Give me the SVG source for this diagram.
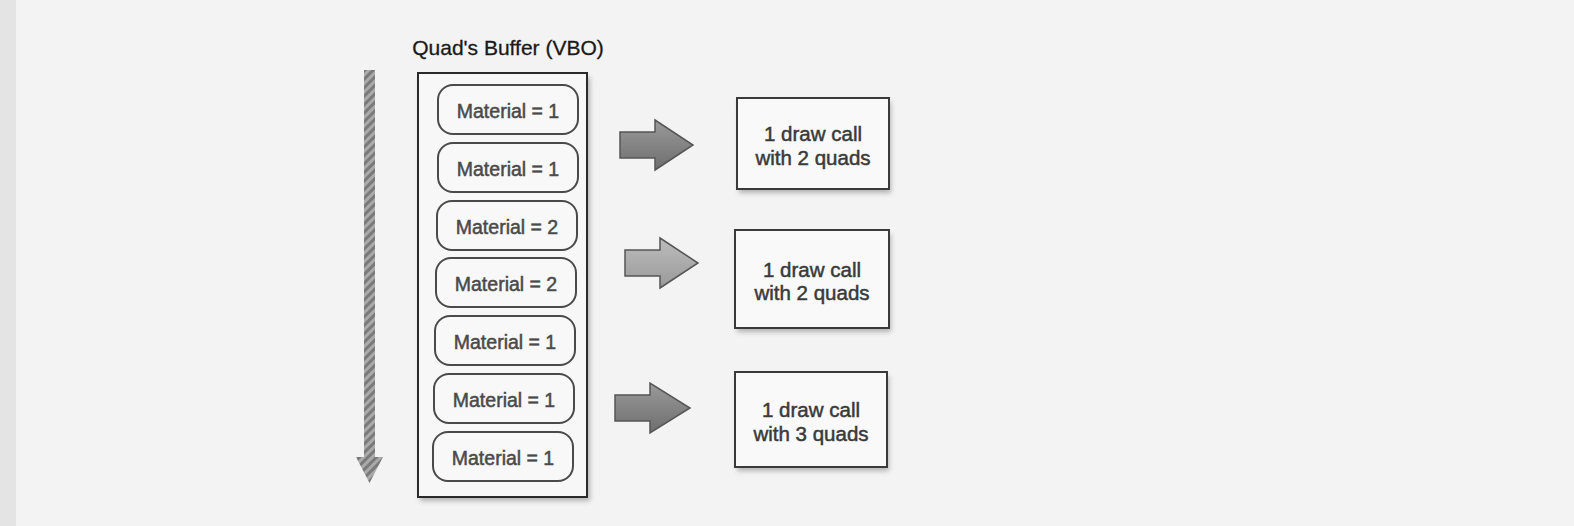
<svg xmlns="http://www.w3.org/2000/svg" width="1574" height="526" viewBox="0 0 1574 526">
  <defs>
    <style>
      .title{font-family:"Liberation Sans",Arial,sans-serif;font-size:21px;fill:#1a1a1a;stroke:#1a1a1a;stroke-width:0.3;text-anchor:middle}
      .pill rect{fill:#f8f8f8;stroke:#4a4a4a;stroke-width:2}
      .pill text{font-family:"Liberation Sans",Arial,sans-serif;font-size:19.5px;fill:#4a4a4a;stroke:#4a4a4a;stroke-width:0.5;text-anchor:middle}
      .box rect.b{fill:#f9f9f9;stroke:#3a3a3a;stroke-width:2}
      .box text{font-family:"Liberation Sans",Arial,sans-serif;font-size:20.5px;fill:#3a3a3a;stroke:#3a3a3a;stroke-width:0.5;text-anchor:middle}
      .shadow{fill:#888;opacity:0.6}
      .blk{stroke:#555;stroke-width:1.5}
    </style>
    <filter id="blur" x="-10%" y="-10%" width="120%" height="120%">
      <feGaussianBlur stdDeviation="2.5"/>
    </filter>
    <linearGradient id="ag" x1="0" y1="0" x2="0" y2="1">
      <stop offset="0" stop-color="#9a9a9a"/>
      <stop offset="1" stop-color="#6e6e6e"/>
    </linearGradient>
    <linearGradient id="ag2" x1="0" y1="0" x2="0" y2="1">
      <stop offset="0" stop-color="#bdbdbd"/>
      <stop offset="1" stop-color="#999"/>
    </linearGradient>
    <pattern id="hatch" width="6" height="6" patternUnits="userSpaceOnUse" patternTransform="rotate(45)">
      <rect width="6" height="6" fill="#aaa"/>
      <rect width="3" height="6" fill="#7a7a7a"/>
    </pattern>
  </defs>

  <rect width="1574" height="526" fill="#f3f3f3"/>
  <rect width="16" height="526" fill="#e4e4e4"/>

  <text class="title" x="508" y="55">Quad's Buffer (VBO)</text>

  <g id="order-arrow">
    <path d="M364,70 L375,70 L375,457 L383,457 L369.5,483 L356,457 L364,457 Z" fill="url(#hatch)"/>
  </g>

  <g id="buffer">
    <rect class="shadow" x="420" y="77" width="170" height="424" filter="url(#blur)"/>
    <rect x="418" y="73" width="169" height="424" fill="#f7f7f7" stroke="#2a2a2a" stroke-width="2"/>
  </g>

  <g id="pill1" class="pill"><rect x="438" y="85" width="140" height="49" rx="15"/><text x="508" y="118">Material = 1</text></g>
  <g id="pill2" class="pill"><rect x="438" y="143" width="140" height="49" rx="15"/><text x="508" y="176">Material = 1</text></g>
  <g id="pill3" class="pill"><rect x="437" y="201" width="140" height="49" rx="15"/><text x="507" y="234">Material = 2</text></g>
  <g id="pill4" class="pill"><rect x="436" y="258" width="140" height="49" rx="15"/><text x="506" y="291">Material = 2</text></g>
  <g id="pill5" class="pill"><rect x="435" y="316" width="140" height="49" rx="15"/><text x="505" y="349">Material = 1</text></g>
  <g id="pill6" class="pill"><rect x="434" y="374" width="140" height="49" rx="15"/><text x="504" y="407">Material = 1</text></g>
  <g id="pill7" class="pill"><rect x="433" y="432" width="140" height="49" rx="15"/><text x="503" y="465">Material = 1</text></g>

  <g id="connectors">
    <path class="blk" d="M620,132 L655,132 L655,120 L693,145 L655,170 L655,158 L620,158 Z" fill="url(#ag)"/>
    <path class="blk" d="M625,250 L660,250 L660,238 L698,263 L660,288 L660,276 L625,276 Z" fill="url(#ag2)" stroke="#888"/>
    <path class="blk" d="M615,395 L650,395 L650,383 L690,408 L650,433 L650,421 L615,421 Z" fill="url(#ag)"/>
  </g>

  <g id="call1" class="box">
    <rect class="shadow" x="739" y="102" width="152" height="91" filter="url(#blur)"/>
    <rect class="b" x="737" y="98" width="152" height="91"/>
    <text x="813" y="141">1 draw call</text>
    <text x="813" y="165">with 2 quads</text>
  </g>
  <g id="call2" class="box">
    <rect class="shadow" x="737" y="234" width="154" height="98" filter="url(#blur)"/>
    <rect class="b" x="735" y="230" width="154" height="98"/>
    <text x="812" y="277">1 draw call</text>
    <text x="812" y="300">with 2 quads</text>
  </g>
  <g id="call3" class="box">
    <rect class="shadow" x="737" y="376" width="152" height="95" filter="url(#blur)"/>
    <rect class="b" x="735" y="372" width="152" height="95"/>
    <text x="811" y="417">1 draw call</text>
    <text x="811" y="441">with 3 quads</text>
  </g>
</svg>
